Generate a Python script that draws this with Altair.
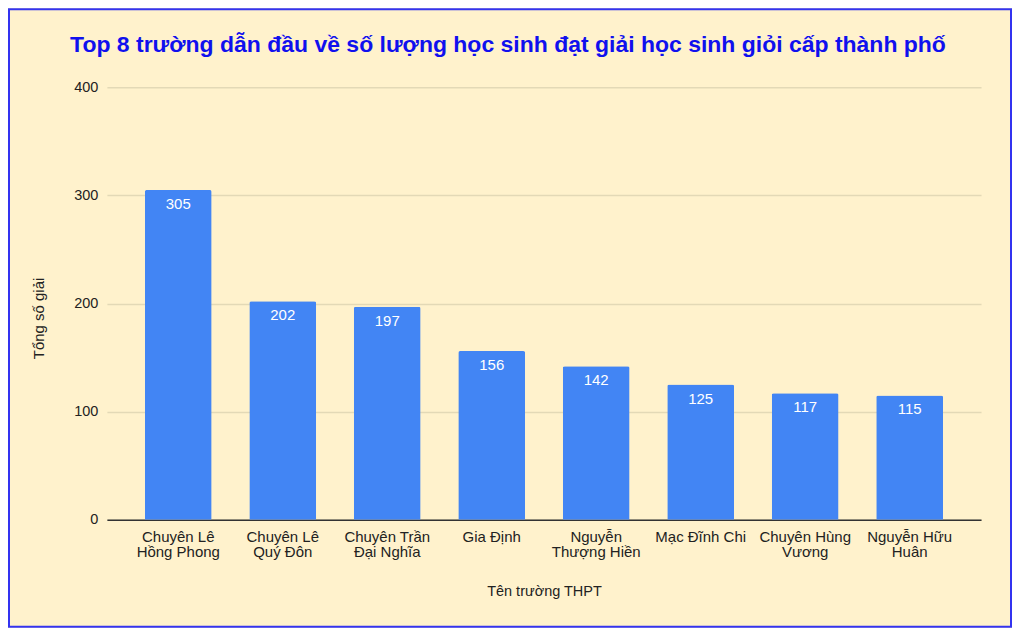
import altair as alt
import pandas as pd

schools = ["Chuyên Lê|Hồng Phong", "Chuyên Lê|Quý Đôn", "Chuyên Trần|Đại Nghĩa", "Gia Định",
           "Nguyễn|Thượng Hiền", "Mạc Đĩnh Chi", "Chuyên Hùng|Vương", "Nguyễn Hữu|Huân"]
counts = [305, 202, 197, 156, 142, 125, 117, 115]
y_ticks = [0, 100, 200, 300, 400]

df = pd.DataFrame({"school": schools, "count": counts})

W, H = 875, 433
PAD = {"left": 99, "top": 79, "right": 31, "bottom": 108}

x_enc = alt.X("school:N", sort=schools, title="Tên trường THPT",
              scale=alt.Scale(paddingInner=0.36, paddingOuter=0.363),
              axis=alt.Axis(labelAngle=0, labelExpr="split(datum.label, '|')",
                            labelFontSize=15, labelColor="#222222", labelPadding=10,
                            labelLineHeight=15, ticks=False, domainColor="#333333",
                            domainWidth=1.5, titleFontSize=14.5, titleFontWeight="normal",
                            titleColor="#222222", titlePadding=25, labelFont="Liberation Sans",
                            titleFont="Liberation Sans"))
y_enc = alt.Y("count:Q", title="Tổng số giải",
              scale=alt.Scale(domain=[0, 400]),
              axis=alt.Axis(values=y_ticks, labelFontSize=14.5, labelColor="#222222",
                            labelPadding=9, ticks=False, domain=False,
                            gridColor="#e3d9b6", gridWidth=1.5,
                            titleFontSize=15, titleFontWeight="normal", titleColor="#222222",
                            titlePadding=27, titleY=231, labelFont="Liberation Sans",
                            titleFont="Liberation Sans"))

base = alt.Chart(df)

frame = alt.Chart(pd.DataFrame({"a": [0]})).mark_rect(
    fill=None, stroke="#3333f0", strokeWidth=2
).encode(
    x=alt.value(-98), x2=alt.value(W + PAD["right"] - 1),
    y=alt.value(-78), y2=alt.value(H + PAD["bottom"] - 1)
)

bars = base.mark_bar(color="#4285f4", cornerRadiusTopLeft=2, cornerRadiusTopRight=2).encode(
    x=x_enc, y=y_enc
)
labels = base.mark_text(color="white", fontSize=15, baseline="middle", dy=14,
                        font="Liberation Sans").encode(
    x=alt.X("school:N", sort=schools), y="count:Q", text="count:Q"
)

chart = alt.layer(bars, labels, frame).properties(
    width=W, height=H,
    title=alt.TitleParams(
        "Top 8 trường dẫn đầu về số lượng học sinh đạt giải học sinh giỏi cấp thành phố",
        fontSize=23, font="Liberation Sans", fontWeight="bold", color="#1010ee",
        anchor="middle", dx=-36, offset=-49),
    autosize=alt.AutoSizeParams(type="none"),
    padding=PAD,
    background="#fff2cc",
).configure_view(stroke=None)

chart.save("out.html", embed_options={"renderer": "svg", "actions": False})
